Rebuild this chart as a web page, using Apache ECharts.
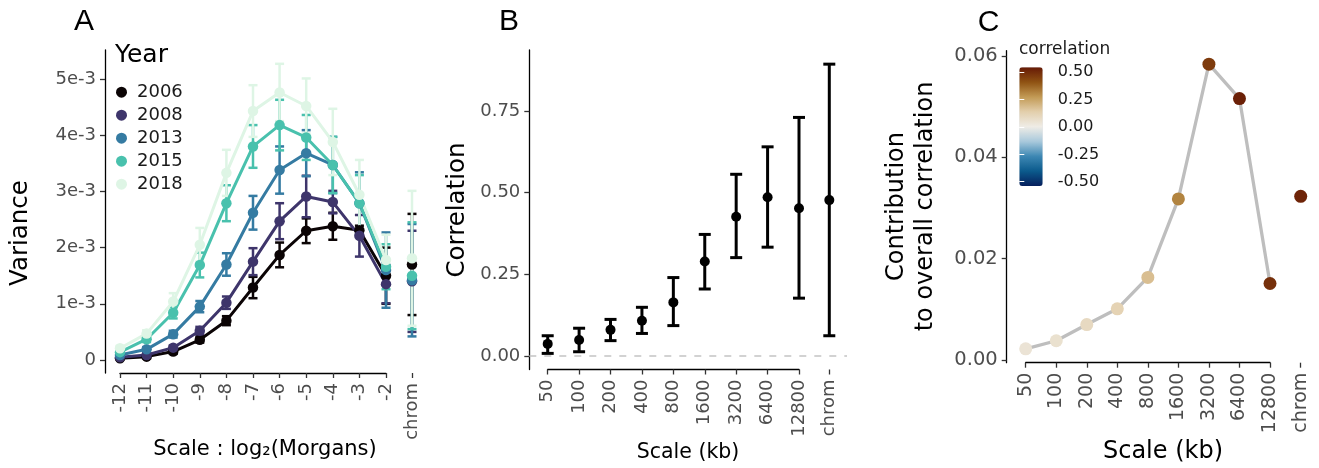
<!DOCTYPE html>
<html>
<head>
<meta charset="utf-8">
<script src="https://cdn.jsdelivr.net/npm/echarts@6/dist/echarts.min.js"></script>
<style>
  html, body { margin: 0; padding: 0; background: #fff; }
  #chart { width: 1319px; height: 468px; }
</style>
</head>
<body>
<div id="chart"></div>
<script>
// ---------- data ----------
// panel A: variance in units of 1e-3, last entry of each row = "chrom"
const morganScales = ['-12', '-11', '-10', '-9', '-8', '-7', '-6', '-5', '-4', '-3', '-2'];
const years = ['2006', '2008', '2013', '2015', '2018'];
const yearColors = ['#0b0405', '#3e356b', '#357ba2', '#49c1ad', '#def5e5'];

const var2006 = [0.03, 0.06, 0.15, 0.36, 0.70, 1.29, 1.87, 2.30, 2.38, 2.31, 1.50, 1.70];
const var2008 = [0.05, 0.09, 0.22, 0.52, 1.02, 1.75, 2.47, 2.91, 2.81, 2.21, 1.35, 1.40];
const var2013 = [0.09, 0.19, 0.46, 0.95, 1.70, 2.62, 3.38, 3.68, 3.47, 2.79, 1.60, 1.42];
const var2015 = [0.14, 0.37, 0.84, 1.69, 2.79, 3.80, 4.18, 3.96, 3.47, 2.79, 1.66, 1.50];
const var2018 = [0.21, 0.47, 1.04, 2.05, 3.33, 4.43, 4.76, 4.52, 3.88, 2.94, 1.78, 1.81];

const err2006 = [0.02, 0.03, 0.04, 0.05, 0.08, 0.19, 0.22, 0.22, 0.24, 0.08, 0.50, 0.90];
const err2008 = [0.02, 0.03, 0.04, 0.07, 0.11, 0.24, 0.32, 0.37, 0.20, 0.37, 0.34, 0.90];
const err2013 = [0.03, 0.04, 0.06, 0.10, 0.20, 0.30, 0.42, 0.41, 0.50, 0.55, 0.67, 1.00];
const err2015 = [0.03, 0.05, 0.10, 0.22, 0.32, 0.38, 0.45, 0.40, 0.50, 0.50, 0.40, 0.95];
const err2018 = [0.04, 0.06, 0.15, 0.30, 0.41, 0.46, 0.51, 0.49, 0.59, 0.62, 0.45, 1.20];

const varianceByYear = [var2006, var2008, var2013, var2015, var2018];
const errorByYear = [err2006, err2008, err2013, err2015, err2018];
const varianceTicks = [0, 1, 2, 3, 4, 5];

// panel B / C: last entry = "chrom"
const kbScales = ['50', '100', '200', '400', '800', '1600', '3200', '6400', '12800'];
const corrMean = [0.037, 0.049, 0.080, 0.108, 0.164, 0.289, 0.426, 0.486, 0.452, 0.477];
const corrLow = [0.008, 0.013, 0.047, 0.069, 0.093, 0.205, 0.301, 0.333, 0.177, 0.062];
const corrHigh = [0.062, 0.085, 0.112, 0.149, 0.240, 0.372, 0.556, 0.640, 0.730, 0.893];
const corrTicks = [0, 0.25, 0.5, 0.75];

const contribution = [0.0022, 0.0038, 0.0070, 0.0101, 0.0163, 0.0318, 0.0584, 0.0516, 0.0151, 0.0323];
const contribTicks = [0, 0.02, 0.04, 0.06];

const FONT = 'DejaVu Sans';
const GREY = '#4d4d4d';

// ---------- helpers ----------
function errorBarItem(cap, width) {
  return function (params, api) {
    const lo = api.coord([api.value(0), api.value(1)]);
    const hi = api.coord([api.value(0), api.value(2)]);
    const c = api.visual('color');
    const seg = (x1, y1, x2, y2) => ({
      type: 'line',
      shape: { x1, y1, x2, y2 },
      style: { stroke: c, lineWidth: width }
    });
    return {
      type: 'group',
      children: [
        seg(lo[0], lo[1], hi[0], hi[1]),
        seg(hi[0] - cap / 2, hi[1], hi[0] + cap / 2, hi[1]),
        seg(lo[0] - cap / 2, lo[1], lo[0] + cap / 2, lo[1])
      ]
    };
  };
}

function catAxis(gridIndex, data, isChrom, fontSize, margin) {
  return {
    type: 'category',
    gridIndex,
    data,
    boundaryGap: isChrom,
    axisLine: { show: !isChrom, onZero: false, lineStyle: { color: '#000', width: 1.3 } },
    axisTick: { show: true, alignWithLabel: true, interval: 0, length: 5, lineStyle: { color: '#333', width: 1.3 } },
    axisLabel: { interval: 0, rotate: 90, margin, color: GREY, fontFamily: FONT, fontSize },
    splitLine: { show: false }
  };
}

function valAxis(gridIndex, min, max, offset, ticks, fmt, fontSize, margin) {
  return {
    type: 'value',
    gridIndex,
    min,
    max,
    offset,
    axisLine: { show: true, onZero: false, lineStyle: { color: '#000', width: 1.3 } },
    axisTick: { show: true, length: 5, customValues: ticks, lineStyle: { color: '#333', width: 1.3 } },
    axisLabel: { customValues: ticks, formatter: fmt, margin, color: GREY, fontFamily: FONT, fontSize },
    splitLine: { show: false }
  };
}

function hiddenAxis(type, gridIndex, min, max) {
  const a = { type, gridIndex, show: false };
  if (type === 'category') a.data = ['chrom'];
  if (min !== undefined) { a.min = min; a.max = max; }
  return a;
}

function label(text, x, y, size, opts) {
  return Object.assign({
    type: 'text',
    x, y,
    silent: true,
    style: {
      text,
      font: size + 'px "' + FONT + '"',
      fill: '#000',
      textAlign: 'center',
      textVerticalAlign: 'middle'
    }
  }, opts || {});
}

function leftText(text, x, y, font, fill) {
  return {
    type: 'text', x, y, silent: true,
    style: { text, font, fill, textAlign: 'left', textVerticalAlign: 'middle' }
  };
}

// ---------- layout ----------
const A_MIN = -0.231, A_MAX = 5.516;
const B_MIN = -0.0413, B_MAX = 0.9363;
const C_MIN = -0.00053, C_MAX = 0.06105;

const grids = [
  { left: 120, top: 50, width: 266, height: 323 },        // 0 A main
  { left: 400, top: 50, width: 24, height: 323 },         // 1 A chrom
  { left: 547.7, top: 50, width: 251.3, height: 319.5 },  // 2 B main
  { left: 817.3, top: 50, width: 24, height: 319.5 },     // 3 B chrom
  { left: 529.3, top: 50, width: 317.7, height: 319.5 },  // 4 B dashed zero line
  { left: 1025.7, top: 50.7, width: 244.3, height: 312 }, // 5 C main
  { left: 1288.7, top: 50.7, width: 24, height: 312 },    // 6 C chrom
  { left: 1019.3, top: 72.3, width: 23.4, height: 109.4 } // 7 colour bar ticks
];

const xAxes = [
  catAxis(0, morganScales, false, 18, 10),
  catAxis(1, ['chrom'], true, 18, 10),
  catAxis(2, kbScales, false, 18, 10),
  catAxis(3, ['chrom'], true, 18, 10),
  hiddenAxis('value', 4, 0, 1),
  catAxis(5, kbScales, false, 19, 10),
  catAxis(6, ['chrom'], true, 19, 10),
  hiddenAxis('value', 7, 0, 1)
];

const yAxes = [
  valAxis(0, A_MIN, A_MAX, 15, varianceTicks, v => (v === 0 ? '0' : Math.round(v) + 'e-3'), 18, 9),
  hiddenAxis('value', 1, A_MIN, A_MAX),
  valAxis(2, B_MIN, B_MAX, 18.4, corrTicks, v => v.toFixed(2), 18, 9),
  hiddenAxis('value', 3, B_MIN, B_MAX),
  hiddenAxis('value', 4, B_MIN, B_MAX),
  valAxis(5, C_MIN, C_MAX, 19, contribTicks, v => v.toFixed(2), 19.5, 9),
  hiddenAxis('value', 6, C_MIN, C_MAX),
  {
    type: 'value', gridIndex: 7, position: 'right', min: -0.5, max: 0.5, interval: 0.25, z: 10,
    axisLine: { show: false },
    axisTick: { show: true, inside: true, length: 5, lineStyle: { color: '#ffffff', width: 1 } },
    axisLabel: { margin: 15, color: '#1a1a1a', fontFamily: FONT, fontSize: 16, formatter: v => v.toFixed(2) },
    splitLine: { show: false }
  },
  {
    type: 'value', gridIndex: 7, position: 'left', min: -0.5, max: 0.5, interval: 0.25, z: 10,
    axisLine: { show: false },
    axisTick: { show: true, inside: true, length: 5, lineStyle: { color: '#ffffff', width: 1 } },
    axisLabel: { show: false },
    splitLine: { show: false }
  }
];

// ---------- series ----------
const series = [];

// A: error bars, then lines, then points
years.forEach((yr, i) => {
  const m = varianceByYear[i], e = errorByYear[i];
  series.push({
    type: 'custom', xAxisIndex: 0, yAxisIndex: 0, z: 2, silent: true,
    itemStyle: { color: yearColors[i] },
    renderItem: errorBarItem(9, 2.5),
    data: morganScales.map((s, j) => [j, m[j] - e[j], m[j] + e[j]])
  });
  series.push({
    type: 'custom', xAxisIndex: 1, yAxisIndex: 1, z: 2, silent: true,
    itemStyle: { color: yearColors[i] },
    renderItem: errorBarItem(9, 2.5),
    data: [[0, m[11] - e[11], m[11] + e[11]]]
  });
});
years.forEach((yr, i) => {
  series.push({
    type: 'line', xAxisIndex: 0, yAxisIndex: 0, z: 3, silent: true,
    symbol: 'none',
    lineStyle: { color: yearColors[i], width: 3 },
    itemStyle: { color: yearColors[i] },
    data: morganScales.map((s, j) => [j, varianceByYear[i][j]])
  });
});
years.forEach((yr, i) => {
  series.push({
    name: yr, type: 'scatter', xAxisIndex: 0, yAxisIndex: 0, z: 4, silent: true,
    symbolSize: 10.5,
    itemStyle: { color: yearColors[i], opacity: 1 },
    data: morganScales.map((s, j) => [j, varianceByYear[i][j]])
  });
  series.push({
    type: 'scatter', xAxisIndex: 1, yAxisIndex: 1, z: 4, silent: true,
    symbolSize: 10.5,
    itemStyle: { color: yearColors[i], opacity: 1 },
    data: [[0, varianceByYear[i][11]]]
  });
});

// B: dashed zero line across both facets
series.push({
  type: 'line', xAxisIndex: 4, yAxisIndex: 4, z: 1, data: [], silent: true,
  markLine: {
    silent: true, symbol: ['none', 'none'], label: { show: false }, animation: false,
    lineStyle: { color: '#c4c4c4', width: 1.5, type: [7, 8] },
    data: [{ yAxis: 0 }]
  }
});
series.push({
  type: 'custom', xAxisIndex: 2, yAxisIndex: 2, z: 2, silent: true,
  itemStyle: { color: '#000' },
  renderItem: errorBarItem(12, 3),
  data: kbScales.map((s, j) => [j, corrLow[j], corrHigh[j]])
});
series.push({
  type: 'custom', xAxisIndex: 3, yAxisIndex: 3, z: 2, silent: true,
  itemStyle: { color: '#000' },
  renderItem: errorBarItem(12, 3),
  data: [[0, corrLow[9], corrHigh[9]]]
});
series.push({
  type: 'scatter', xAxisIndex: 2, yAxisIndex: 2, z: 4, silent: true, symbolSize: 10,
  itemStyle: { color: '#000', opacity: 1 },
  data: kbScales.map((s, j) => [j, corrMean[j]])
});
series.push({
  type: 'scatter', xAxisIndex: 3, yAxisIndex: 3, z: 4, silent: true, symbolSize: 10,
  itemStyle: { color: '#000', opacity: 1 },
  data: [[0, corrMean[9]]]
});

// C
series.push({
  type: 'line', xAxisIndex: 5, yAxisIndex: 5, z: 2, silent: true, symbol: 'none',
  lineStyle: { color: '#bebebe', width: 3.3 },
  data: kbScales.map((s, j) => [j, contribution[j]])
});
const cMainIdx = series.length;
series.push({
  type: 'scatter', xAxisIndex: 5, yAxisIndex: 5, z: 4, silent: true, symbolSize: 13,
  itemStyle: { opacity: 1 },
  data: kbScales.map((s, j) => [j, contribution[j], corrMean[j]])
});
series.push({
  type: 'scatter', xAxisIndex: 6, yAxisIndex: 6, z: 4, silent: true, symbolSize: 13,
  itemStyle: { opacity: 1 },
  data: [[0, contribution[9], corrMean[9]]]
});

const option = {
  animation: false,
  backgroundColor: '#fff',
  grid: grids,
  xAxis: xAxes,
  yAxis: yAxes,
  legend: {
    orient: 'vertical',
    left: 116,
    top: 83.2,
    padding: 0,
    itemGap: 5,
    itemWidth: 11,
    itemHeight: 11,
    icon: 'circle',
    selectedMode: false,
    data: years,
    textStyle: { fontFamily: FONT, fontSize: 18, color: '#1a1a1a', lineHeight: 17, padding: [0, 0, 0, 5] }
  },
  visualMap: {
    type: 'continuous',
    min: -0.5,
    max: 0.5,
    dimension: 2,
    seriesIndex: [cMainIdx, cMainIdx + 1],
    calculable: false,
    hoverLink: false,
    left: 1019.3,
    top: 67.3,
    padding: 0,
    itemWidth: 23.4,
    itemHeight: 118.7,
    inRange: {
      color: ['#061f5c', '#0b5a8c', '#3d87b3', '#a9c9dc', '#efece6', '#e3cfac', '#c29a55', '#8f5212', '#661a06']
    }
  },
  graphic: [
    leftText('A', 74, 22, '30px "Liberation Sans"', '#000'),
    leftText('B', 499, 22, '30px "Liberation Sans"', '#000'),
    leftText('C', 977.7, 23, '30px "Liberation Sans"', '#000'),
    leftText('Year', 115, 55, '25px "' + FONT + '"', '#000'),
    label('Variance', 21, 233, 24.5, { rotation: Math.PI / 2 }),
    label('Scale : log\u2082(Morgans)', 265, 450, 21),
    label('Correlation', 458, 210, 24.5, { rotation: Math.PI / 2 }),
    label('Scale (kb)', 688, 453, 20.5),
    label('Contribution\nto overall correlation', 911.5, 206.5, 24, {
      rotation: Math.PI / 2,
      style: { text: 'Contribution\nto overall correlation', font: '24px "' + FONT + '"', fill: '#000', textAlign: 'center', textVerticalAlign: 'middle', lineHeight: 29 }
    }),
    label('Scale (kb)', 1163, 452, 24),
    leftText('correlation', 1019, 50, '17px "' + FONT + '"', '#1a1a1a')
  ],
  series
};

const chart = echarts.init(document.getElementById('chart'), null, { renderer: 'canvas' });
chart.setOption(option);
</script>
</body>
</html>
